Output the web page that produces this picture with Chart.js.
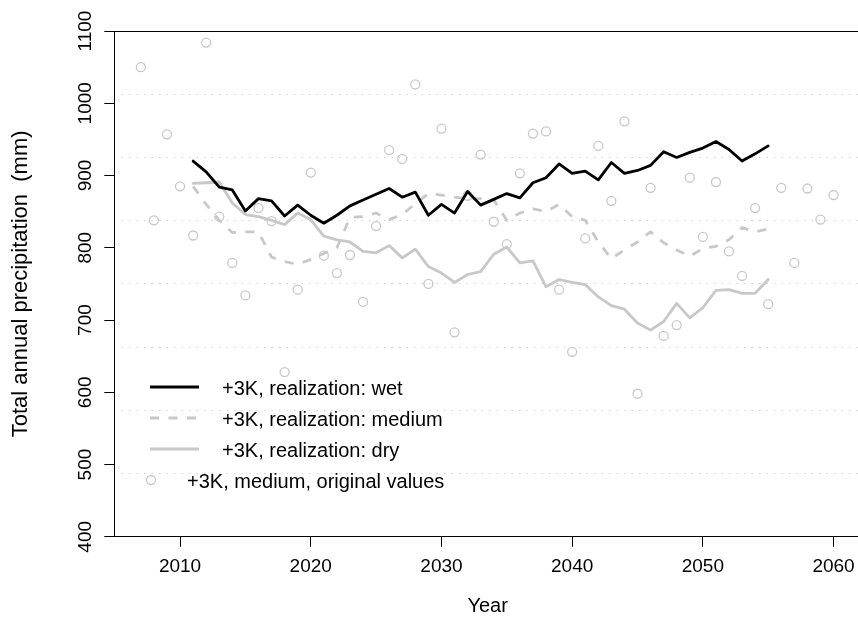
<!DOCTYPE html>
<html>
<head>
<meta charset="utf-8">
<script src="https://cdn.jsdelivr.net/npm/chart.js@4.4.1/dist/chart.umd.min.js"></script>
<style>
  html, body { margin: 0; padding: 0; background: #fff; overflow: hidden; width: 858px; height: 617px; }
  canvas { display: block; }
</style>
</head>
<body>
<canvas id="chart" width="880" height="617" style="width:880px;height:617px"></canvas>
<script>
// Years of the smoothed realizations
const lineYears = [2011, 2012, 2013, 2014, 2015, 2016, 2017, 2018, 2019, 2020,
                   2021, 2022, 2023, 2024, 2025, 2026, 2027, 2028, 2029, 2030,
                   2031, 2032, 2033, 2034, 2035, 2036, 2037, 2038, 2039, 2040,
                   2041, 2042, 2043, 2044, 2045, 2046, 2047, 2048, 2049, 2050,
                   2051, 2052, 2053, 2054, 2055];

// Total annual precipitation (mm), +3K realizations
const wet = [920, 905, 884, 880, 851, 868, 865, 844, 859, 845,
             834, 845, 858, 866, 874, 882, 870, 877, 845, 860,
             848, 878, 859, 867, 875, 869, 890, 897, 916, 903,
             906, 894, 918, 903, 907, 914, 933, 925, 932, 938,
             947, 936, 920, 930, 941];
const medium = [885, 860, 838, 821, 822, 822, 787, 781, 777, 784,
                792, 800, 842, 843, 848, 839, 846, 861, 875, 873,
                870, 868, 868, 866, 838, 848, 854, 850, 860, 843,
                838, 808, 785, 797, 808, 822, 807, 797, 788, 799,
                802, 811, 828, 822, 826];
const dry = [889, 890, 891, 862, 846, 843, 838, 832, 848, 839,
             816, 811, 808, 795, 793, 803, 786, 798, 774, 765,
             752, 763, 767, 791, 801, 779, 782, 746, 756, 752,
             749, 732, 720, 715, 696, 686, 698, 723, 703, 717,
             741, 742, 737, 737, 756];

// Original yearly values of the medium realization
const pointYears = [2007, 2008, 2009, 2010, 2011, 2012, 2013, 2014, 2015, 2016,
                    2017, 2018, 2019, 2020, 2021, 2022, 2023, 2024, 2025, 2026,
                    2027, 2028, 2029, 2030, 2031, 2032, 2033, 2034, 2035, 2036,
                    2037, 2038, 2039, 2040, 2041, 2042, 2043, 2044, 2045, 2046,
                    2047, 2048, 2049, 2050, 2051, 2052, 2053, 2054, 2055, 2056,
                    2057, 2058, 2059, 2060];
const originalValues = [1050, 838, 957, 885, 817, 1084, 843, 779, 734, 855,
                        837, 628, 742, 904, 789, 765, 790, 725, 830, 935,
                        923, 1026, 750, 965, 683, 872, 929, 836, 805, 903,
                        958, 961, 742, 656, 813, 941, 865, 975, 598, 883,
                        678, 693, 897, 815, 891, 795, 761, 855, 722, 883,
                        779, 882, 839, 873];

// Axis ticks and horizontal guide levels
const xTicks = [2010, 2020, 2030, 2040, 2050, 2060];
const yTicks = [400, 500, 600, 700, 800, 900, 1000, 1100];
const guideLevels = [400, 487.5, 575, 662.5, 750, 837.5, 925, 1012.5, 1100];

const seriesLabels = ['+3K, realization: wet', '+3K, realization: medium',
                      '+3K, realization: dry', '+3K, medium, original values'];

const FONT = '"Liberation Sans", Arial, Helvetica, sans-serif';
const GREY = '#c8c8c8';

const toXY = (xs, ys) => xs.map((x, i) => ({ x: x, y: ys[i] }));
const setTicks = (values) => (scale) => { scale.ticks = values.map(v => ({ value: v })); };

// Key in the lower left of the plot
const keyPlugin = {
  id: 'seriesKey',
  afterDraw(chart) {
    const ctx = chart.ctx;
    const ds = chart.data.datasets;
    const rows = [
      { y: 395, textX: 222 },
      { y: 426, textX: 222 },
      { y: 457, textX: 222 },
      { y: 488, textX: 187 }
    ];
    ctx.save();
    ctx.font = '20px ' + FONT;
    ctx.textBaseline = 'alphabetic';
    ctx.textAlign = 'left';
    rows.forEach((row, i) => {
      const d = ds[i];
      const my = row.y - 8;
      ctx.strokeStyle = d.borderColor;
      if (d.showLine === false) {
        ctx.lineWidth = d.pointBorderWidth;
        ctx.setLineDash([]);
        ctx.beginPath();
        ctx.arc(151, my, d.pointRadius, 0, Math.PI * 2);
        ctx.stroke();
      } else {
        ctx.lineWidth = d.borderWidth;
        ctx.setLineDash(d.borderDash || []);
        ctx.lineCap = 'butt';
        ctx.beginPath();
        ctx.moveTo(150, my);
        ctx.lineTo(199, my);
        ctx.stroke();
      }
      ctx.setLineDash([]);
      ctx.fillStyle = '#000';
      ctx.fillText(d.label, row.textX, row.y);
    });
    ctx.restore();
  }
};

new Chart(document.getElementById('chart'), {
  type: 'line',
  data: {
    datasets: [
      {
        label: seriesLabels[0], data: toXY(lineYears, wet),
        borderColor: '#000000', borderWidth: 2.8, pointRadius: 0,
        borderJoinStyle: 'round', borderCapStyle: 'round', order: 1
      },
      {
        label: seriesLabels[1], data: toXY(lineYears, medium),
        borderColor: GREY, borderWidth: 2.8, borderDash: [9, 9.5], pointRadius: 0,
        borderJoinStyle: 'round', borderCapStyle: 'butt', order: 2
      },
      {
        label: seriesLabels[2], data: toXY(lineYears, dry),
        borderColor: GREY, borderWidth: 2.8, pointRadius: 0,
        borderJoinStyle: 'round', borderCapStyle: 'round', order: 3
      },
      {
        label: seriesLabels[3], data: toXY(pointYears, originalValues),
        showLine: false, borderColor: GREY, backgroundColor: 'rgba(0,0,0,0)',
        pointRadius: 4.5, pointBorderWidth: 1.3, pointBorderColor: GREY,
        pointBackgroundColor: 'rgba(0,0,0,0)', order: 4
      }
    ]
  },
  options: {
    responsive: false,
    animation: false,
    devicePixelRatio: 1,
    layout: { padding: { left: 0, right: 19, top: 31, bottom: 0 } },
    plugins: { legend: { display: false }, tooltip: { enabled: false } },
    scales: {
      x: {
        type: 'linear', position: 'bottom', min: 2004.97, max: 2062.1,
        afterBuildTicks: setTicks(xTicks),
        afterFit: (s) => { s.height = 80.2; },
        ticks: { color: '#000', font: { family: FONT, size: 19 }, padding: 9, maxRotation: 0, minRotation: 0,
                 callback: (v) => String(v) },
        grid: { drawOnChartArea: false, drawTicks: true, tickLength: 10, tickColor: '#000', tickWidth: 1 },
        border: { display: true, color: '#000', width: 1 },
        title: { display: true, text: 'Year', color: '#000', font: { family: FONT, size: 20 }, padding: { top: 0, bottom: -1.5 } }
      },
      top: {
        type: 'linear', position: 'top', display: true,
        afterFit: (s) => { s.height = 0; },
        ticks: { display: false },
        grid: { display: false, drawTicks: false },
        border: { display: true, color: '#000', width: 1 }
      },
      guides: {
        type: 'linear', position: 'left', min: 400, max: 1100,
        afterBuildTicks: setTicks(guideLevels),
        afterFit: (s) => { s.width = 0; },
        ticks: { display: false },
        grid: { drawOnChartArea: true, drawTicks: false, color: '#d3d3d3', lineWidth: 1 },
        border: { display: false, dash: [1.5, 6] }
      },
      y: {
        type: 'linear', position: 'left', min: 400, max: 1100,
        afterBuildTicks: setTicks(yTicks),
        afterFit: (s) => { s.width = 114.3; },
        ticks: { color: '#000', font: { family: FONT, size: 19 }, minRotation: 90, maxRotation: 90,
                 crossAlign: 'center', padding: -3, callback: (v) => String(v) },
        grid: { drawOnChartArea: false, drawTicks: true, tickLength: 10, tickColor: '#000', tickWidth: 1 },
        border: { display: true, color: '#000', width: 1 },
        title: { display: true, text: 'Total annual precipitation  (mm)', color: '#000',
                 font: { family: FONT, size: 22 }, padding: { top: 7.5, bottom: 0 } }
      }
    }
  },
  plugins: [keyPlugin]
});
</script>
</body>
</html>
